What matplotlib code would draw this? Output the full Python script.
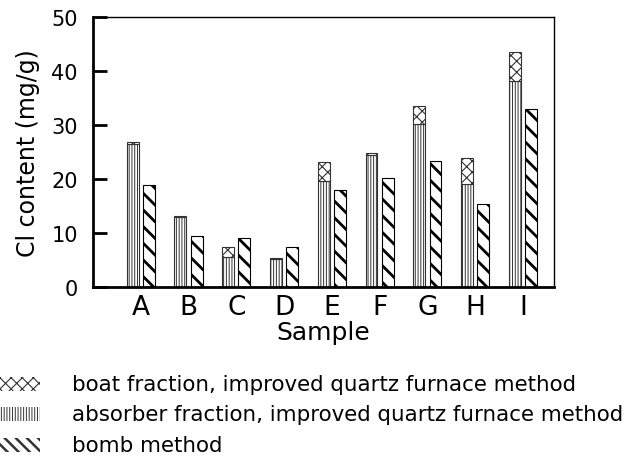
import numpy as np
import matplotlib
matplotlib.use('Agg')
import matplotlib.pyplot as plt
from matplotlib.patches import Rectangle

# dati (mg/g)
samples = ['A', 'B', 'C', 'D', 'E', 'F', 'G', 'H', 'I']
absorber = [26.5, 12.9, 5.5, 5.1, 19.7, 24.5, 30.2, 19.1, 38.1]
boat = [0.3, 0.3, 2.0, 0.3, 3.4, 0.4, 3.4, 4.7, 5.5]
bomb = [18.9, 9.5, 9.1, 7.4, 18.0, 20.1, 23.4, 15.4, 32.9]
legend_labels = ['boat fraction, improved quartz furnace method',
                 'absorber fraction, improved quartz furnace method',
                 'bomb method']

plt.rcParams['font.family'] = 'DejaVu Sans'

fig = plt.figure(figsize=(6.27, 4.6), dpi=100)
ax = fig.add_axes([93/627, 172/460, 461/627, 270/460])

x = np.arange(len(samples))
w = 0.25
off = 0.17

plt.rcParams['hatch.linewidth'] = 0.7
ax.bar(x - off, absorber, w, color='white', edgecolor='#333333', hatch='||||||', lw=0.8)
plt.rcParams['hatch.linewidth'] = 0.8
ax.bar(x - off, boat, w, bottom=absorber, color='white', edgecolor='#333333', hatch='xxx', lw=0.8)
plt.rcParams['hatch.linewidth'] = 2.0
ax.bar(x + off, bomb, w, color='white', edgecolor='black', hatch='\\\\', lw=0.8)

ax.set_xlim(-1, 8.65)
ax.set_ylim(0, 50)
ax.set_xticks(x)
ax.set_xticklabels(samples, fontsize=19)
ax.tick_params(axis='x', length=0, pad=5)
ax.set_yticks([0, 10, 20, 30, 40, 50])
ax.tick_params(axis='y', direction='in', length=10, width=2, labelsize=15, pad=11)
ax.set_xlabel('Sample', fontsize=18, labelpad=0)
ax.set_ylabel('Cl content (mg/g)', fontsize=17, labelpad=8)
ax.spines['left'].set_linewidth(2)
ax.spines['bottom'].set_linewidth(2)
ax.spines['top'].set_linewidth(1)
ax.spines['right'].set_linewidth(1)

# legenda sotto il grafico
hatches = ['xxx', '||||||', '\\\\\\']
hlw = [0.8, 0.7, 1.8]
ys = [385, 415, 446]
for h, lw, yy, lab in zip(hatches, hlw, ys, legend_labels):
    plt.rcParams['hatch.linewidth'] = lw
    fig.patches.append(Rectangle((0, 1 - (yy + 7)/460), 40/627, 14/460,
                                 transform=fig.transFigure, facecolor='white',
                                 edgecolor='#333333', lw=0, hatch=h))
    fig.text(72/627, 1 - yy/460, lab, fontsize=15.4, va='center', ha='left')

fig.savefig('out.png', dpi=100)
